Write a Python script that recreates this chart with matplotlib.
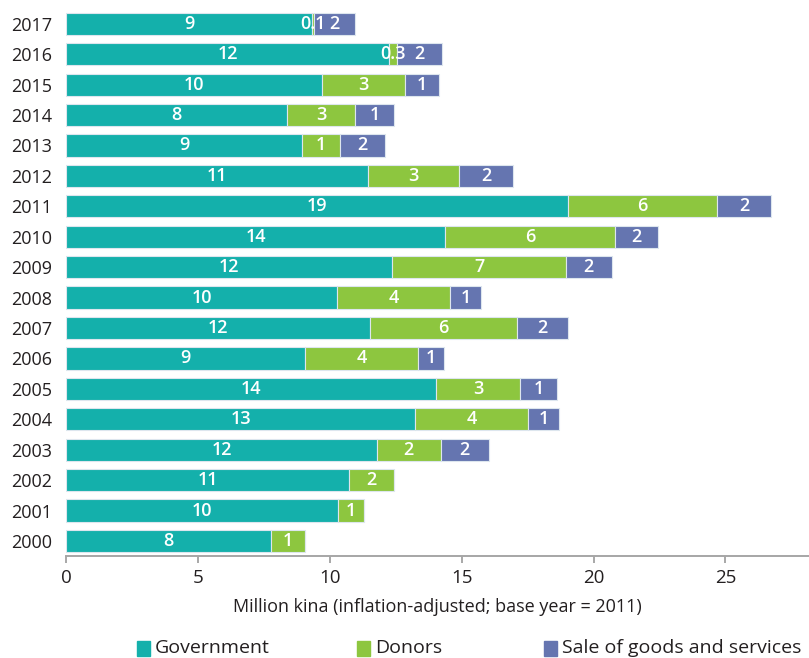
import matplotlib.pyplot as plt
from matplotlib.patches import Rectangle

plt.rcParams['font.family'] = ['Open Sans', 'DejaVu Sans']

# data (million kina, inflation-adjusted)
years = [2000, 2001, 2002, 2003, 2004, 2005, 2006, 2007, 2008,
         2009, 2010, 2011, 2012, 2013, 2014, 2015, 2016, 2017]
government = [7.76, 10.32, 10.72, 11.78, 13.24, 14.02, 9.06, 11.52, 10.28,
              12.36, 14.37, 19.04, 11.45, 8.95, 8.38, 9.70, 12.25, 9.31]
donors = [1.30, 0.97, 1.71, 2.42, 4.27, 3.20, 4.29, 5.59, 4.27,
          6.59, 6.45, 5.65, 3.45, 1.43, 2.57, 3.15, 0.30, 0.10]
sales = [0, 0, 0, 1.82, 1.19, 1.41, 0.96, 1.92, 1.19,
         1.74, 1.64, 2.04, 2.05, 1.71, 1.48, 1.30, 1.71, 1.55]

series = ['Government', 'Donors', 'Sale of goods and services']
colors = ['#14b0ab', '#8dc63f', '#6575b0']


def fmt(v):
    return f"{v:.1f}" if v < 0.5 else f"{v:.0f}"


fig = plt.figure(figsize=(8.09, 6.58), dpi=100)
ax = fig.add_axes([66.3 / 809, 0.155, 1 - 66.3 / 809, 0.832])

pos = list(range(len(years)))
left = [0] * len(years)
for name, vals, col in zip(series, [government, donors, sales], colors):
    ax.barh(pos, vals, left=left, height=0.73, color=col,
            edgecolor='#dde6ee', linewidth=0.8)
    for p, l, v in zip(pos, left, vals):
        if v > 0:
            ax.text(l + v / 2, p, fmt(v), ha='center', va='center',
                    color='white', fontsize=13, fontweight='semibold')
    left = [a + b for a, b in zip(left, vals)]

ax.set_yticks(pos)
ax.set_yticklabels([str(y) for y in years], fontsize=13, color='#231f20')
ax.tick_params(axis='y', length=0, pad=10)
ax.set_xlim(0, 28.17)
ax.set_ylim(-0.493, 17.5)
ax.set_xticks([0, 5, 10, 15, 20, 25])
ax.tick_params(axis='x', labelsize=13.5, colors='#999999', labelcolor='#231f20',
               length=5, width=1.2, pad=4)
for s in ['top', 'right', 'left']:
    ax.spines[s].set_visible(False)
ax.spines['bottom'].set_color('#a6a6a6')
ax.spines['bottom'].set_linewidth(1.4)
ax.set_xlabel('Million kina (inflation-adjusted; base year = 2011)',
              fontsize=13, color='#231f20', labelpad=8)

# legend drawn by hand to keep the uneven spacing
leg_x = [137, 357, 544]
for x, name, col in zip(leg_x, series, colors):
    fig.patches.append(Rectangle((x / 809, 2 / 658), 13 / 809, 15 / 658,
                                 transform=fig.transFigure, color=col))
    fig.text((x + 18) / 809, 10 / 658, name, fontsize=14, color='#231f20',
             ha='left', va='center')

fig.savefig('out.png', dpi=100)
